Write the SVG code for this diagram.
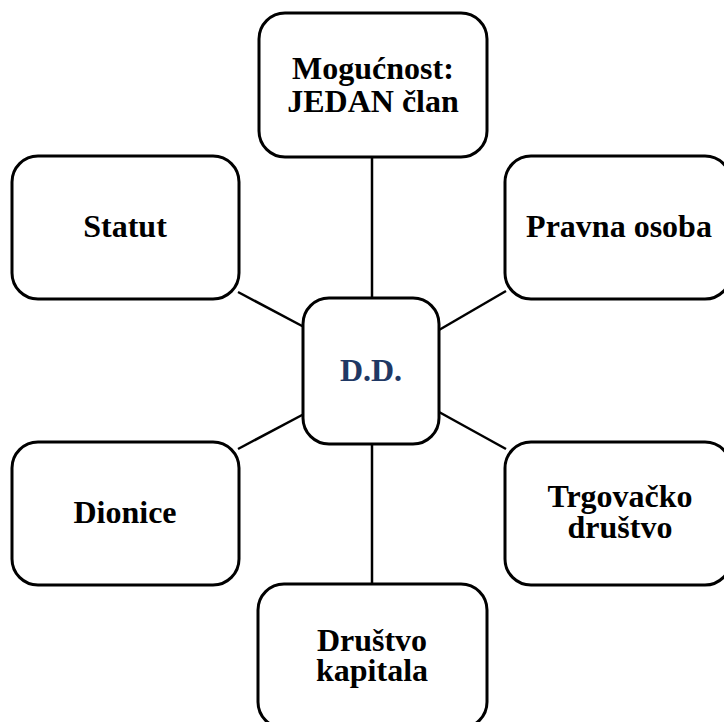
<svg xmlns="http://www.w3.org/2000/svg" width="724" height="722" viewBox="0 0 724 722">
<style>
.box{fill:#fff;stroke:#000;stroke-width:3}
.lbl{font-family:"Liberation Serif","Times New Roman",serif;font-weight:bold;font-size:32px;fill:#000;text-anchor:middle}
.ctr{fill:#1f3864}
.conn line{stroke:#000;stroke-width:2.5}
</style>
<rect width="724" height="722" fill="#fff"/>
<g class="conn" id="connectors">
<line x1="372" y1="157" x2="372" y2="298"/>
<line x1="372" y1="444" x2="372" y2="584"/>
<line x1="238" y1="292" x2="304" y2="327"/>
<line x1="506" y1="291" x2="439" y2="330"/>
<line x1="238" y1="449" x2="304" y2="414"/>
<line x1="506" y1="449" x2="439" y2="412"/>
</g>
<g id="node-top"><rect class="box" x="259" y="13" width="228" height="144" rx="26"/>
<text class="lbl" x="373" y="79">Mogućnost:</text><text class="lbl" x="373" y="112">JEDAN član</text></g>
<g id="node-statut"><rect class="box" x="12" y="156" width="227" height="143" rx="26"/>
<text class="lbl" x="125" y="237">Statut</text></g>
<g id="node-pravna"><rect class="box" x="505" y="156" width="226" height="143" rx="26"/>
<text class="lbl" x="619" y="237">Pravna osoba</text></g>
<g id="node-center"><rect class="box" x="303" y="298" width="136" height="146" rx="26"/>
<text class="lbl ctr" x="371" y="381">D.D.</text></g>
<g id="node-dionice"><rect class="box" x="12" y="442" width="227" height="143" rx="26"/>
<text class="lbl" x="125" y="523">Dionice</text></g>
<g id="node-trgovacko"><rect class="box" x="505" y="442" width="226" height="143" rx="26"/>
<text class="lbl" x="620" y="507">Trgovačko</text><text class="lbl" x="620" y="538">društvo</text></g>
<g id="node-bottom"><rect class="box" x="258" y="584" width="229" height="144" rx="26"/>
<text class="lbl" x="372" y="651">Društvo</text><text class="lbl" x="372" y="681">kapitala</text></g>
</svg>
